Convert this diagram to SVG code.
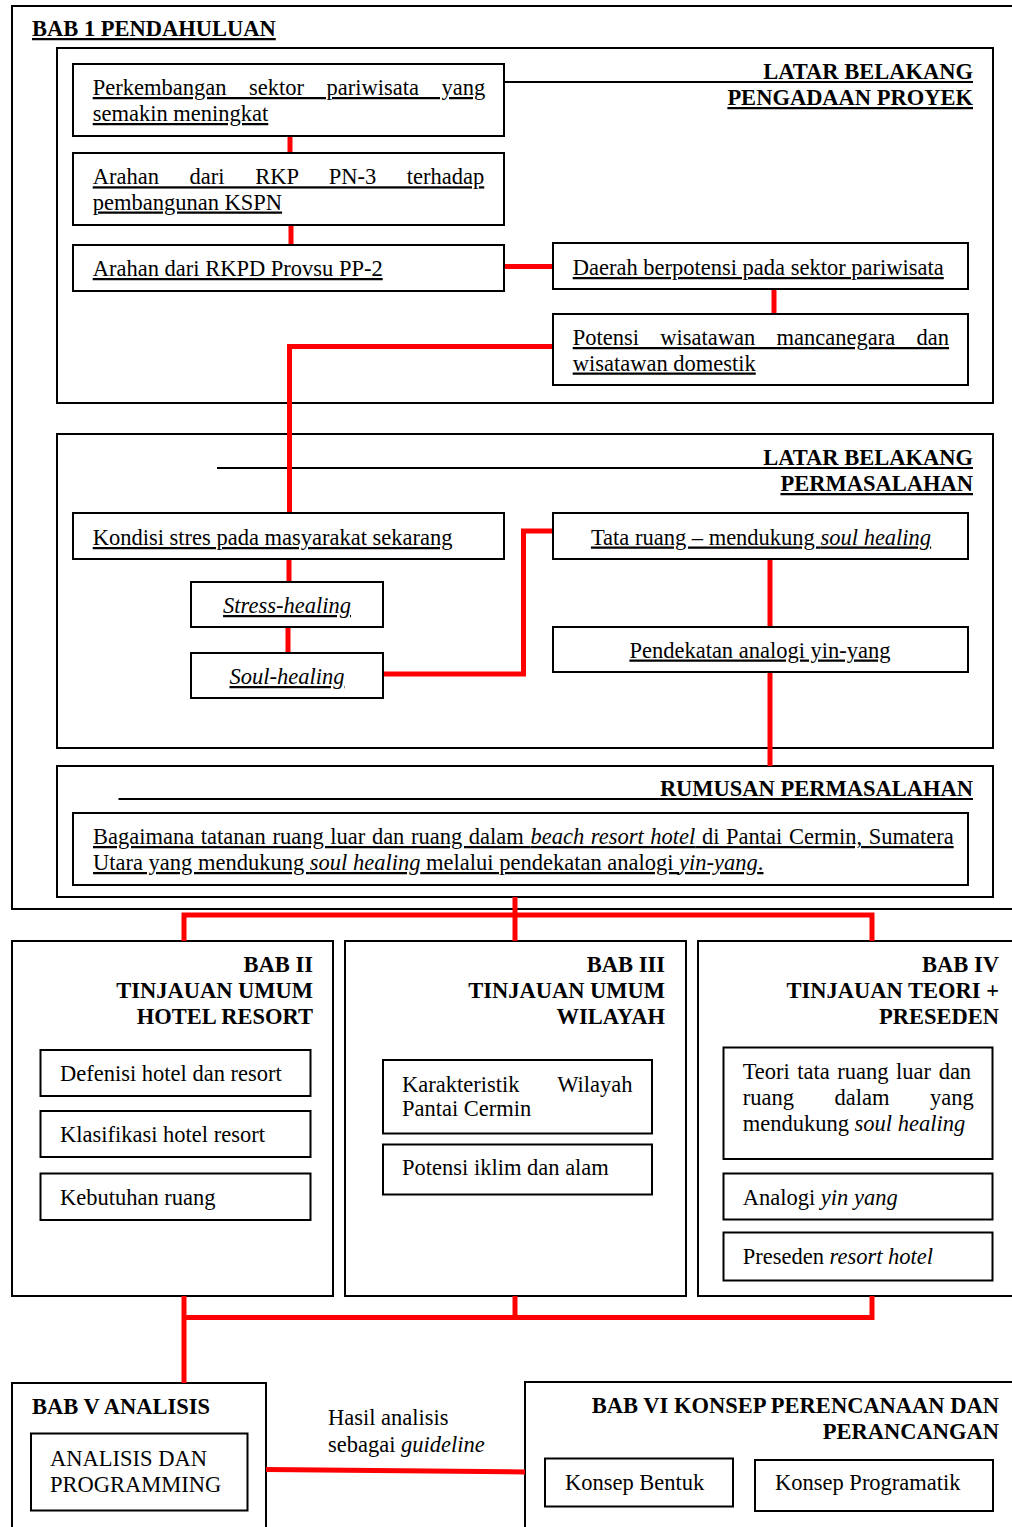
<svg xmlns="http://www.w3.org/2000/svg" width="1012" height="1527" viewBox="0 0 1012 1527">
<style>
.box{fill:#fff;stroke:#000;stroke-width:2}
.frame{fill:none;stroke:#000;stroke-width:2}
.t{font-family:"Liberation Serif","Times New Roman",serif;font-size:22.5px;fill:#000}
.b{font-weight:bold}
.u{text-decoration:underline;text-decoration-skip-ink:none}
.i{font-style:italic}
.c{fill:none;stroke:#ff0000;stroke-width:5;stroke-linejoin:miter;stroke-linecap:butt}
.ln{fill:none;stroke:#000;stroke-width:2}
</style>
<rect width="1012" height="1527" fill="#fff"/>

<!-- containers -->
<g id="bab1">
  <rect class="frame" x="12" y="6" width="1012" height="903"/>
  <text class="t b u" x="32" y="36">BAB 1 PENDAHULUAN</text>
</g>
<g id="latar-pengadaan">
  <rect class="box" x="57" y="48" width="936" height="355"/>
  <path class="ln" d="M505 82 H973"/>
  <text class="t b" x="973" y="79" text-anchor="end">LATAR BELAKANG</text>
  <text class="t b u" x="973" y="105" text-anchor="end">PENGADAAN PROYEK</text>
</g>
<g id="latar-permasalahan">
  <rect class="box" x="57" y="434" width="936" height="314"/>
  <path class="ln" d="M217 468 H973"/>
  <text class="t b" x="973" y="465" text-anchor="end">LATAR BELAKANG</text>
  <text class="t b u" x="973" y="491" text-anchor="end">PERMASALAHAN</text>
</g>
<g id="rumusan">
  <rect class="box" x="57" y="766" width="936" height="131"/>
  <path class="ln" d="M118.5 799 H973"/>
  <text class="t b" x="973" y="795.5" text-anchor="end">RUMUSAN PERMASALAHAN</text>
</g>
<g id="bab2">
  <rect class="box" x="12" y="941" width="321" height="355"/>
  <text class="t b" x="313" y="972" text-anchor="end">BAB II</text>
  <text class="t b" x="313" y="998" text-anchor="end">TINJAUAN UMUM</text>
  <text class="t b" x="313" y="1024" text-anchor="end">HOTEL RESORT</text>
</g>
<g id="bab3">
  <rect class="box" x="345" y="941" width="341" height="355"/>
  <text class="t b" x="665" y="972" text-anchor="end">BAB III</text>
  <text class="t b" x="665" y="998" text-anchor="end">TINJAUAN UMUM</text>
  <text class="t b" x="665" y="1024" text-anchor="end">WILAYAH</text>
</g>
<g id="bab4">
  <rect class="box" x="698" y="941" width="330" height="355"/>
  <text class="t b" x="999" y="972" text-anchor="end">BAB IV</text>
  <text class="t b" x="999" y="998" text-anchor="end">TINJAUAN TEORI +</text>
  <text class="t b" x="999" y="1024" text-anchor="end">PRESEDEN</text>
</g>
<g id="bab5">
  <rect class="box" x="12" y="1383" width="254" height="200"/>
  <text class="t b" x="32" y="1413.5">BAB V ANALISIS</text>
</g>
<g id="bab6">
  <rect class="box" x="525" y="1382" width="500" height="200"/>
  <text class="t b" x="999" y="1413" text-anchor="end">BAB VI KONSEP PERENCANAAN DAN</text>
  <text class="t b" x="999" y="1439" text-anchor="end">PERANCANGAN</text>
</g>

<!-- connectors -->
<g id="connectors">
  <path class="c" d="M290 136 V153"/>
  <path class="c" d="M291 225 V245"/>
  <path class="c" d="M504 266.5 H553"/>
  <path class="c" d="M774 289 V314"/>
  <path class="c" d="M553 346.5 H289.5 V513"/>
  <path class="c" d="M289 559 V582"/>
  <path class="c" d="M288 627 V653"/>
  <path class="c" d="M383 674 H523.5 V531 H553"/>
  <path class="c" d="M770 559 V627"/>
  <path class="c" d="M770 672 V766"/>
  <path class="c" d="M515 897 V941"/>
  <path class="c" d="M184 941 V915 H872 V941"/>
  <path class="c" d="M184 1296 V1383"/>
  <path class="c" d="M184 1317.5 H872 V1296"/>
  <path class="c" d="M515 1296 V1317.5"/>
  <path class="c" d="M266 1469.5 L525 1472"/>
  <text class="t" x="328" y="1425">Hasil analisis</text>
  <text class="t" x="328" y="1452">sebagai <tspan class="i">guideline</tspan></text>
</g>

<!-- nodes -->
<g id="n-perkembangan">
  <rect class="box" x="73" y="64" width="431" height="72"/>
  <text class="t u" x="92.7" y="95" word-spacing="16.9">Perkembangan sektor pariwisata yang</text>
  <text class="t u" x="92.7" y="121">semakin meningkat</text>
</g>
<g id="n-rkp">
  <rect class="box" x="73" y="153" width="431" height="72"/>
  <text class="t u" x="92.7" y="184.3" word-spacing="25">Arahan dari RKP PN-3 terhadap</text>
  <text class="t u" x="92.7" y="209.5">pembangunan KSPN</text>
</g>
<g id="n-rkpd">
  <rect class="box" x="73" y="245" width="431" height="46"/>
  <text class="t u" x="92.7" y="276">Arahan dari RKPD Provsu PP-2</text>
</g>
<g id="n-daerah">
  <rect class="box" x="553" y="243" width="415" height="46"/>
  <text class="t u" x="572.7" y="275">Daerah berpotensi pada sektor pariwisata</text>
</g>
<g id="n-potensi-wisatawan">
  <rect class="box" x="553" y="314" width="415" height="71"/>
  <text class="t u" x="572.7" y="345" word-spacing="15.7">Potensi wisatawan mancanegara dan</text>
  <text class="t u" x="572.7" y="370.5">wisatawan domestik</text>
</g>
<g id="n-kondisi">
  <rect class="box" x="73" y="513" width="431" height="46"/>
  <text class="t u" x="92.7" y="545">Kondisi stres pada masyarakat sekarang</text>
</g>
<g id="n-stress">
  <rect class="box" x="191" y="582" width="192" height="45"/>
  <text class="t u i" x="287" y="613" text-anchor="middle">Stress-healing</text>
</g>
<g id="n-soul">
  <rect class="box" x="191" y="653" width="192" height="45"/>
  <text class="t u i" x="287" y="684" text-anchor="middle">Soul-healing</text>
</g>
<g id="n-tata">
  <rect class="box" x="553" y="513" width="415" height="46"/>
  <text class="t u" x="761" y="544.5" text-anchor="middle">Tata ruang – mendukung <tspan class="i">soul healing</tspan></text>
</g>
<g id="n-pendekatan">
  <rect class="box" x="553" y="627" width="415" height="45"/>
  <text class="t u" x="760" y="657.5" text-anchor="middle">Pendekatan analogi yin-yang</text>
</g>
<g id="n-rumusan-text">
  <rect class="box" x="73" y="813" width="895" height="72"/>
  <text class="t u" x="93" y="844" word-spacing="1">Bagaimana tatanan ruang luar dan ruang dalam <tspan class="i">beach resort hotel</tspan> di Pantai Cermin, Sumatera</text>
  <text class="t u" x="93" y="870">Utara yang mendukung <tspan class="i">soul healing</tspan> melalui pendekatan analogi <tspan class="i">yin-yang</tspan>.</text>
</g>
<g id="n-defenisi">
  <rect class="box" x="40.5" y="1050" width="270" height="46"/>
  <text class="t" x="60" y="1081">Defenisi hotel dan resort</text>
</g>
<g id="n-klasifikasi">
  <rect class="box" x="40.5" y="1111" width="270" height="46"/>
  <text class="t" x="60" y="1142">Klasifikasi hotel resort</text>
</g>
<g id="n-kebutuhan">
  <rect class="box" x="40.5" y="1173.5" width="270" height="46.5"/>
  <text class="t" x="60" y="1205">Kebutuhan ruang</text>
</g>
<g id="n-karakteristik">
  <rect class="box" x="383" y="1060" width="269" height="73.5"/>
  <text class="t" x="402" y="1092" word-spacing="32.5">Karakteristik Wilayah</text>
  <text class="t" x="402" y="1116">Pantai Cermin</text>
</g>
<g id="n-iklim">
  <rect class="box" x="383" y="1144.5" width="269" height="50"/>
  <text class="t" x="402" y="1175">Potensi iklim dan alam</text>
</g>
<g id="n-teori">
  <rect class="box" x="723.5" y="1047.5" width="269" height="111.5"/>
  <text class="t" x="742.7" y="1078.5" word-spacing="1.9">Teori tata ruang luar dan</text>
  <text class="t" x="742.7" y="1105" word-spacing="34.9">ruang dalam yang</text>
  <text class="t" x="742.7" y="1131">mendukung <tspan class="i">soul healing</tspan></text>
</g>
<g id="n-analogi">
  <rect class="box" x="723.5" y="1173.5" width="269" height="46"/>
  <text class="t" x="742.7" y="1205">Analogi <tspan class="i">yin yang</tspan></text>
</g>
<g id="n-preseden">
  <rect class="box" x="723.5" y="1232.5" width="269" height="48"/>
  <text class="t" x="742.7" y="1263.5">Preseden <tspan class="i">resort hotel</tspan></text>
</g>
<g id="n-analisis">
  <rect class="box" x="31" y="1433.5" width="216.5" height="77"/>
  <text class="t" x="50" y="1466">ANALISIS DAN</text>
  <text class="t" x="50" y="1491.5">PROGRAMMING</text>
</g>
<g id="n-bentuk">
  <rect class="box" x="545" y="1458.5" width="188" height="48"/>
  <text class="t" x="565" y="1489.5">Konsep Bentuk</text>
</g>
<g id="n-programatik">
  <rect class="box" x="755" y="1460" width="238" height="51"/>
  <text class="t" x="775" y="1490">Konsep Programatik</text>
</g>
</svg>
